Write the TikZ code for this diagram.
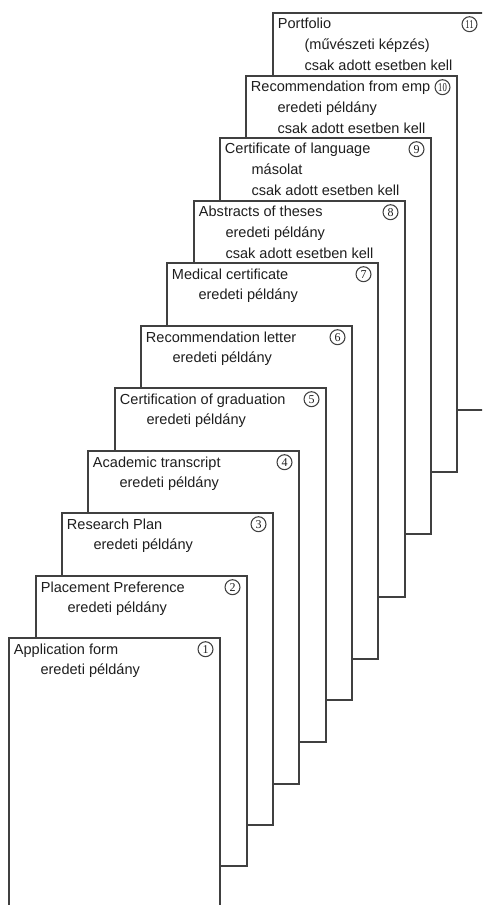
\documentclass[tikz,border=0pt]{standalone}
\usepackage{fontspec}
\setmainfont{Liberation Sans}
\newfontfamily\numfont{Liberation Serif}
\usetikzlibrary{positioning}
\definecolor{ink}{HTML}{1E1E1E}
\definecolor{edge}{HTML}{404040}
\tikzset{
  doc/.style={draw=edge, fill=white, line width=0.95pt},
  ttl/.style={anchor=base west, inner sep=0pt, text=ink, font=\fontsize{10.9}{13}\selectfont},
  num/.style={circle, draw=edge, line width=0.8pt, minimum size=11.2pt, inner sep=0pt,
    text=ink, font=\numfont\fontsize{9}{9}\selectfont},
}

\begin{document}
\begin{tikzpicture}[x=0.75pt, y=-0.75pt]
  \useasboundingbox (0,0) rectangle (482,905);
  \clip (0,0) rectangle (482,905);
  % back to front: 11 first, 1 last
  \foreach \n/\bot/\ttext/\stext/\ctext in {
    11/410/Portfolio/(művészeti képzés)/csak adott esetben kell,
    10/472/Recommendation from emp/eredeti példány/csak adott esetben kell,
    9/534/Certificate of language/másolat/csak adott esetben kell,
    8/597/Abstracts of theses/eredeti példány/csak adott esetben kell,
    7/659/Medical certificate/eredeti példány/{},
    6/700/Recommendation letter/eredeti példány/{},
    5/742/Certification of graduation/eredeti példány/{},
    4/784/Academic transcript/eredeti példány/{},
    3/825/Research Plan/eredeti példány/{},
    2/866/Placement Preference/eredeti példány/{},
    1/908/Application form/eredeti példány/{}} {
    \pgfmathsetmacro\lx{round(9.3+26.34*(\n-1))}
    \pgfmathsetmacro\ty{round(638.3-62.53*(\n-1))}
    \pgfmathsetmacro\rx{\lx+211}
    \coordinate (b\n) at (\lx,\ty);
    \coordinate (r\n) at (\rx,\ty);
    \draw[doc] (b\n) rectangle (\rx,\bot);
    \node[ttl] (t\n) at ([shift={(4.7,16)}]b\n) {\ttext};
    \node[ttl] (s\n) at ([shift={(26.6,20.7)}]t\n.base west) {\stext};
    \node[ttl] (c\n) at ([shift={(0,20.7)}]s\n.base west) {\ctext};
    \node[num] (k\n) at ([shift={(-14.5,11.2)}]r\n)
      {\ifnum\n>9 \scalebox{0.72}[1]{\n}\else\n\fi};
  }
\end{tikzpicture}
\end{document}
